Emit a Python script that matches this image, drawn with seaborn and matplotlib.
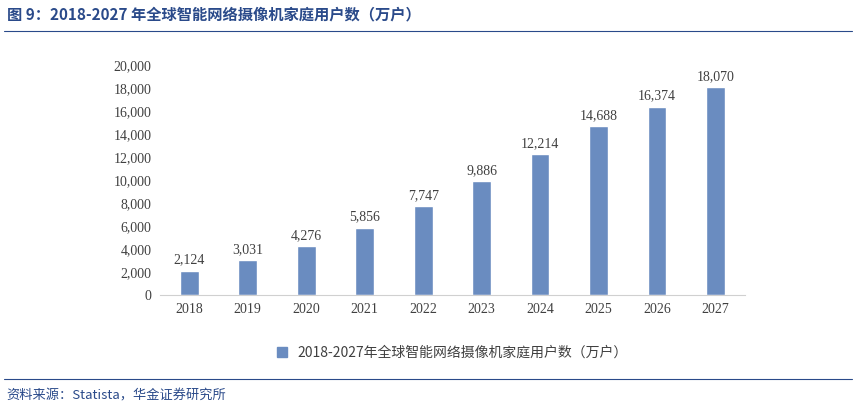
import matplotlib.pyplot as plt
import seaborn as sns
import pandas as pd
from matplotlib.lines import Line2D
from matplotlib.patches import Patch

years = ['2018', '2019', '2020', '2021', '2022', '2023', '2024', '2025', '2026', '2027']
users = [2124, 3031, 4276, 5856, 7747, 9886, 12214, 14688, 16374, 18070]
series_name = '2018-2027年全球智能网络摄像机家庭用户数（万户）'

sns.set_style('white')
plt.rcParams['font.family'] = ['Noto Sans CJK SC', 'DejaVu Sans']

df = pd.DataFrame({'year': years, 'users': users})
bar_color = '#6a8cc0'

fig = plt.figure(figsize=(8.56, 4.08), dpi=100)
ax = fig.add_axes([0.187, 0.277, 0.683, 0.564])
sns.barplot(data=df, x='year', y='users', color=bar_color, width=0.32, ax=ax, saturation=1)

for i, v in enumerate(users):
    ax.text(i, v + 350, f'{v:,}', ha='center', va='bottom', fontsize=10, color='#404040',
            family=['Liberation Serif', 'DejaVu Serif'])

ax.set_ylim(0, 20000)
ax.set_yticks(range(0, 20001, 2000))
ax.set_yticklabels([f'{t:,}' for t in range(0, 20001, 2000)], family=['Liberation Serif'], fontsize=10, color='#404040')
ax.set_xticks(range(len(years)))
ax.set_xticklabels(years, family=['Liberation Serif'], fontsize=10, color='#404040')
ax.tick_params(axis='both', length=0, pad=6)
ax.set_xlabel('')
ax.set_ylabel('')
for s in ['top', 'right', 'left']:
    ax.spines[s].set_visible(False)
ax.spines['bottom'].set_color('#d0d0d0')

ax.legend(handles=[Patch(color=bar_color, label=series_name)], loc='center',
          bbox_to_anchor=(0.5, -0.25), frameon=False, fontsize=10, handlelength=0.7,
          labelcolor='#404040')

fig.text(0.008, 0.965, '图 9：2018-2027 年全球智能网络摄像机家庭用户数（万户）', fontsize=11,
         fontweight='bold', color='#2a4a8a', va='center')
fig.add_artist(Line2D([0.005, 0.995], [0.925, 0.925], color='#2a4a8a', lw=0.8))
fig.add_artist(Line2D([0.005, 0.995], [0.07, 0.07], color='#2a4a8a', lw=0.8))
fig.text(0.008, 0.03, '资料来源：Statista，华金证券研究所', fontsize=9.5, style='italic',
         color='#2a4a8a', va='center')

fig.savefig('out.png', dpi=100)
